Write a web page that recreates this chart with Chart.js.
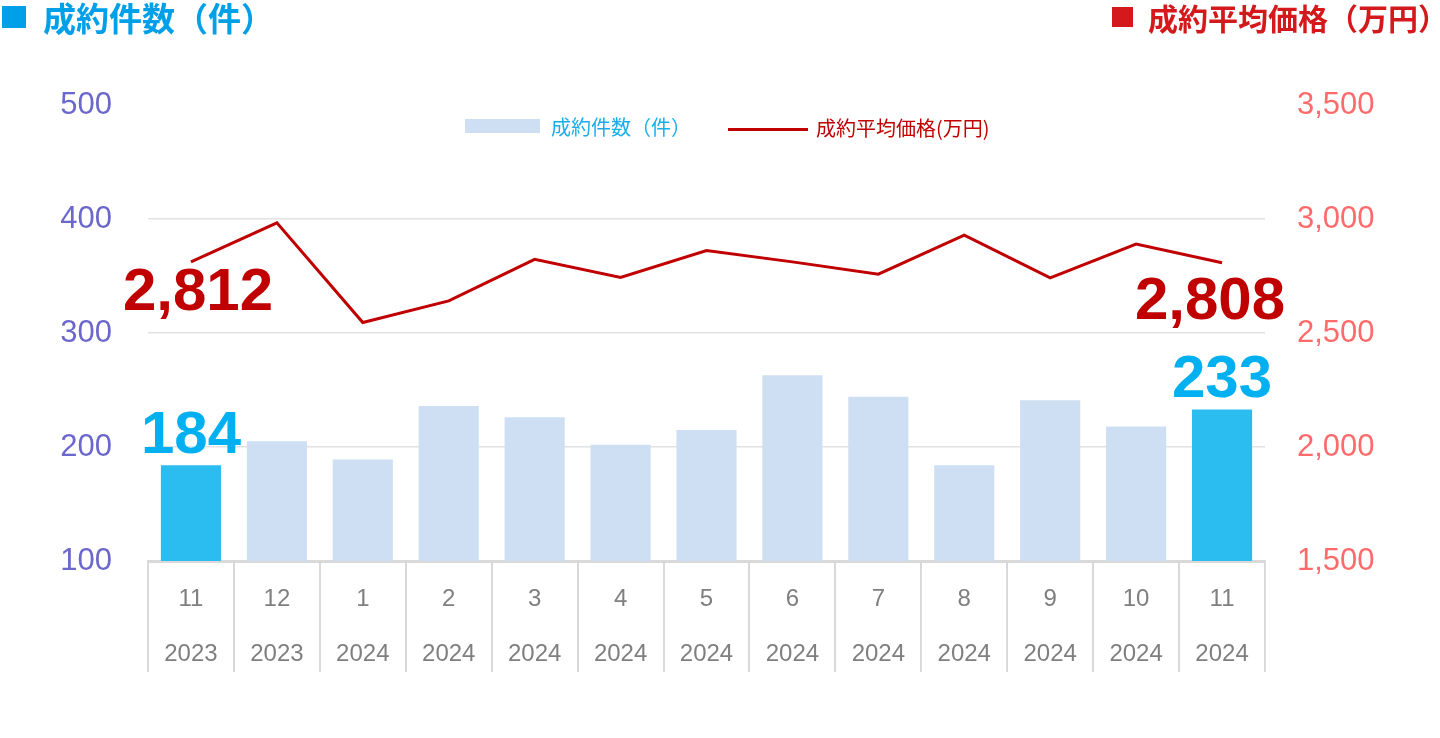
<!DOCTYPE html>
<html>
<head>
<meta charset="utf-8">
<script src="https://cdn.jsdelivr.net/npm/chart.js@4"></script>
<style>
  html, body { margin: 0; padding: 0; background: #fff; }
  #wrap { position: relative; width: 1440px; height: 738px; overflow: hidden; }
  canvas { position: absolute; left: 0; top: 0; }
  .hdr { position: absolute; font-family: "Noto Sans CJK JP"; font-weight: bold; white-space: nowrap; line-height: 1; }
  .sq { position: absolute; }
  .lg { position: absolute; font-family: "Noto Sans CJK JP"; white-space: nowrap; line-height: 1; }
</style>
</head>
<body>
<div id="wrap">
  <canvas id="c" width="1440" height="738"></canvas>

  <!-- axis headers -->
  <div class="sq" style="left:2px;top:6px;width:24px;height:22px;background:#00A0E9"></div>
  <div class="hdr" style="left:43px;top:1px;font-size:33px;color:#00A0E9">成約件数（件）</div>
  <div class="sq" style="left:1112px;top:7px;width:21px;height:20px;background:#D3191C"></div>
  <div class="hdr" style="left:1148px;top:2px;font-size:30px;color:#D3191C">成約平均価格（万円）</div>

  <!-- legend -->
  <div class="sq" style="left:465px;top:119px;width:75px;height:14px;background:#CFDFF3"></div>
  <div class="lg" style="left:551px;top:117px;font-size:20px;color:#19AEEA">成約件数（件）</div>
  <div class="sq" style="left:728px;top:128px;width:80px;height:3px;background:#C00000"></div>
  <div class="lg" style="left:816px;top:118px;font-size:20px;color:#C00000">成約平均価格(万円)</div>
</div>

<script>
// Monthly closed deals and average closing price
const months = ['11', '12', '1', '2', '3', '4', '5', '6', '7', '8', '9', '10', '11'];
const years = ['2023', '2023', '2024', '2024', '2024', '2024', '2024', '2024', '2024', '2024', '2024', '2024', '2024'];
const dealCounts = [184, 205, 189, 236, 226, 202, 215, 263, 244, 184, 241, 218, 233];
const avgPrices = [2812, 2983, 2546, 2641, 2823, 2744, 2862, 2812, 2758, 2929, 2742, 2890, 2808];

const countTicks = { min: 100, max: 500, step: 100 };
const priceTicks = { min: 1500, max: 3500, step: 500 };

const xLabels = months.map((m, i) => [m, years[i]]);
const lastIdx = dealCounts.length - 1;
const isEnd = i => i === 0 || i === lastIdx;

Chart.defaults.font.family = '"Liberation Sans", sans-serif';

// Big value callouts on the first and last month
const valueLabels = {
  id: 'valueLabels',
  afterDatasetsDraw(chart) {
    const c = chart.ctx;
    const lineMeta = chart.getDatasetMeta(0);
    const barMeta = chart.getDatasetMeta(1);
    c.save();
    c.font = 'bold 60px "Liberation Sans"';
    c.textAlign = 'center';
    c.textBaseline = 'alphabetic';

    c.fillStyle = '#00B0F0';
    [0, lastIdx].forEach(i => {
      const bar = barMeta.data[i];
      c.fillText(dealCounts[i].toLocaleString('en-US'), bar.x, bar.y - 12);
    });

    c.fillStyle = '#C00000';
    const p0 = lineMeta.data[0];
    c.fillText(avgPrices[0].toLocaleString('en-US'), p0.x + 7, p0.y + 48);
    const pN = lineMeta.data[lastIdx];
    c.fillText(avgPrices[lastIdx].toLocaleString('en-US'), pN.x - 12, pN.y + 56);
    c.restore();
  }
};

new Chart(document.getElementById('c'), {
  data: {
    labels: xLabels,
    datasets: [
      {
        type: 'line',
        label: '成約平均価格(万円)',
        data: avgPrices,
        yAxisID: 'yPrice',
        borderColor: '#C00000',
        borderWidth: 3,
        pointRadius: 0,
        tension: 0,
        order: 0
      },
      {
        type: 'bar',
        label: '成約件数（件）',
        data: dealCounts,
        yAxisID: 'yCount',
        backgroundColor: ctx => isEnd(ctx.dataIndex) ? '#2BBDF0' : '#CFDFF3',
        barPercentage: 0.7,
        categoryPercentage: 1,
        order: 1
      }
    ]
  },
  options: {
    responsive: false,
    animation: false,
    devicePixelRatio: 1,
    layout: { padding: { top: 105, left: 0, right: 0, bottom: 0 } },
    plugins: { legend: { display: false }, tooltip: { enabled: false } },
    scales: {
      x: {
        offset: true,
        grid: {
          offset: true,
          drawOnChartArea: false,
          drawTicks: true,
          tickLength: 111,
          color: '#D9D9D9',
          lineWidth: 2
        },
        border: { color: '#D9D9D9', width: 3 },
        ticks: {
          color: '#7F7F7F',
          font: { size: 24, lineHeight: 2.3 },
          padding: -100,
          maxRotation: 0,
          autoSkip: false
        },
        afterFit(s) { s.height = 177; }
      },
      yCount: {
        position: 'left',
        min: countTicks.min,
        max: countTicks.max,
        ticks: { stepSize: countTicks.step, color: '#6B67CC', font: { size: 31 }, padding: 36 },
        grid: {
          drawTicks: false,
          color: c => (c.tick.value === countTicks.min || c.tick.value === countTicks.max) ? 'rgba(0,0,0,0)' : '#E2E2E2',
          lineWidth: 1.5
        },
        border: { display: false },
        afterFit(s) { s.width = 148; }
      },
      yPrice: {
        position: 'right',
        min: priceTicks.min,
        max: priceTicks.max,
        ticks: {
          stepSize: priceTicks.step,
          color: '#FF6B6B',
          font: { size: 31 },
          padding: 32,
          callback: v => v.toLocaleString('en-US')
        },
        grid: { drawOnChartArea: false, drawTicks: false },
        border: { display: false },
        afterFit(s) { s.width = 175; }
      }
    }
  },
  plugins: [valueLabels]
});
</script>
</body>
</html>
